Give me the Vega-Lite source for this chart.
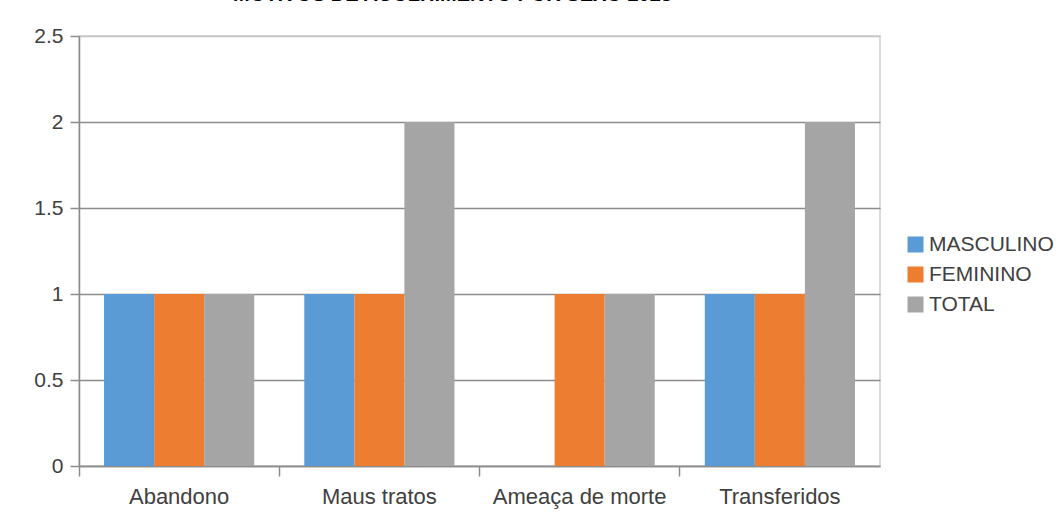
{
  "$schema": "https://vega.github.io/schema/vega-lite/v6.json",
  "width": 801,
  "height": 430,
  "autosize": {"type": "none"},
  "padding": {"left": 79, "top": 36, "right": 181, "bottom": 61},
  "background": "white",
  "title": {
    "text": "MOTIVOS DE ACOLHIMENTO POR SEXO 2023",
    "font": "Liberation Sans",
    "fontSize": 20,
    "fontWeight": "bold",
    "color": "black",
    "anchor": "start",
    "frame": "group",
    "dx": 154,
    "offset": 0,
    "baseline": "bottom"
  },
  "data": {
    "values": [
      {"motivo": "Abandono", "sexo": "MASCULINO", "valor": 1},
      {"motivo": "Abandono", "sexo": "FEMININO", "valor": 1},
      {"motivo": "Abandono", "sexo": "TOTAL", "valor": 1},
      {"motivo": "Maus tratos", "sexo": "MASCULINO", "valor": 1},
      {"motivo": "Maus tratos", "sexo": "FEMININO", "valor": 1},
      {"motivo": "Maus tratos", "sexo": "TOTAL", "valor": 2},
      {"motivo": "Ameaça de morte", "sexo": "MASCULINO", "valor": 0},
      {"motivo": "Ameaça de morte", "sexo": "FEMININO", "valor": 1},
      {"motivo": "Ameaça de morte", "sexo": "TOTAL", "valor": 1},
      {"motivo": "Transferidos", "sexo": "MASCULINO", "valor": 1},
      {"motivo": "Transferidos", "sexo": "FEMININO", "valor": 1},
      {"motivo": "Transferidos", "sexo": "TOTAL", "valor": 2}
    ]
  },
  "mark": {"type": "bar"},
  "encoding": {
    "x": {
      "field": "motivo",
      "type": "nominal",
      "sort": ["Abandono", "Maus tratos", "Ameaça de morte", "Transferidos"],
      "scale": {"paddingInner": 0, "paddingOuter": 0},
      "axis": {
        "title": null,
        "labelAngle": 0,
        "bandPosition": 0,
        "grid": false,
        "domainColor": "#8c8c8c",
        "domainWidth": 1.5,
        "tickColor": "#8c8c8c",
        "tickWidth": 1.5,
        "tickSize": 10,
        "labelPadding": 10,
        "labelFont": "Liberation Sans",
        "labelFontSize": 22,
        "labelColor": "#404040"
      }
    },
    "xOffset": {
      "field": "sexo",
      "sort": ["MASCULINO", "FEMININO", "TOTAL"],
      "scale": {"paddingInner": 0, "paddingOuter": 0.5}
    },
    "y": {
      "field": "valor",
      "type": "quantitative",
      "scale": {"domain": [0, 2.5]},
      "axis": {
        "title": null,
        "values": [0, 0.5, 1, 1.5, 2, 2.5],
        "format": "~g",
        "grid": true,
        "gridColor": {"condition": {"test": "datum.value === 2.5", "value": "#c4c4c4"}, "value": "#8c8c8c"},
        "gridWidth": 1.5,
        "domainColor": "#8c8c8c",
        "domainWidth": 1.5,
        "tickColor": "#8c8c8c",
        "tickWidth": 1.5,
        "tickSize": 9,
        "labelPadding": 7,
        "labelFont": "Liberation Sans",
        "labelFontSize": 21,
        "labelColor": "#404040"
      }
    },
    "color": {
      "field": "sexo",
      "type": "nominal",
      "sort": ["MASCULINO", "FEMININO", "TOTAL"],
      "scale": {
        "domain": ["MASCULINO", "FEMININO", "TOTAL"],
        "range": ["#5B9BD5", "#ED7D31", "#A5A5A5"]
      },
      "legend": {
        "title": null,
        "orient": "none",
        "legendX": 826,
        "legendY": 198,
        "padding": 0,
        "symbolType": "square",
        "symbolSize": 256,
        "symbolStrokeWidth": 0,
        "symbolOpacity": 1,
        "labelFont": "Liberation Sans",
        "labelFontSize": 21,
        "labelColor": "#404040",
        "labelOffset": 3,
        "rowPadding": 8
      }
    }
  },
  "config": {"view": {"stroke": "#cfcfcf", "strokeWidth": 1.5}}
}
